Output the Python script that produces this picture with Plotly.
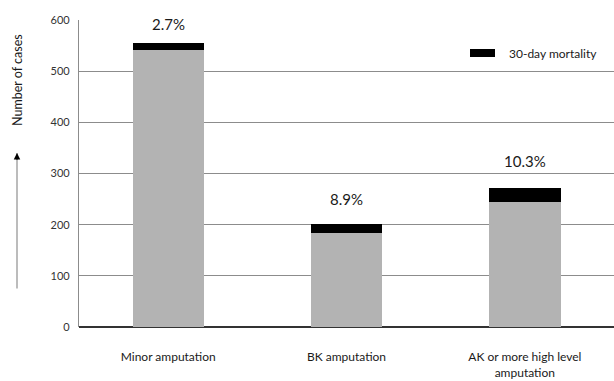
import plotly.graph_objects as go

# Amputation outcomes: survivors and 30-day deaths per amputation level
categories = ["Minor amputation", "BK amputation", "AK or more high level<br>amputation"]
survivors = [541, 184, 244]
deaths_30day = [15, 18, 28]
y_ticks = [0, 100, 200, 300, 400, 500, 600]

totals = [s + d for s, d in zip(survivors, deaths_30day)]
mortality_pct = [f"{100 * d / t:.1f}%" for d, t in zip(deaths_30day, totals)]

FONT = "Lato, 'Open Sans', sans-serif"
xpos = list(range(len(categories)))

fig = go.Figure()
fig.add_trace(go.Bar(
    x=xpos, y=survivors, name="Survivors",
    marker=dict(color="#b3b3b3", line=dict(width=0)),
    width=0.4, showlegend=False,
))
fig.add_trace(go.Bar(
    x=xpos, y=deaths_30day, name="30-day mortality",
    marker=dict(color="#000000", line=dict(width=0)),
    width=0.4, showlegend=False,
))

# Percentage labels above each stacked bar
label_shift = [19, 25, 27]
for i, (t, txt) in enumerate(zip(totals, mortality_pct)):
    fig.add_annotation(x=xpos[i], y=t, text=txt, showarrow=False,
                       yshift=label_shift[i], xanchor="center", yanchor="middle",
                       font=dict(family=FONT, size=15, color="#1a1a1a"))

# Legend swatch and text
fig.add_shape(type="rect", xref="paper", yref="paper",
              x0=(470 - 79) / 535, x1=(495 - 79) / 535,
              y0=(327 - 57) / 307, y1=(327 - 49) / 307,
              fillcolor="black", line=dict(width=0))
fig.add_annotation(xref="paper", yref="paper", x=(507 - 79) / 535, y=(327 - 53) / 307,
                   text="30-day mortality", showarrow=False, xanchor="left", yanchor="middle",
                   font=dict(family=FONT, size=12, color="#1a1a1a"))

# Y-axis title with upward arrow
fig.add_annotation(xref="paper", yref="paper", x=(17 - 79) / 535, y=(327 - 80) / 307,
                   text="Number of cases", textangle=-90, showarrow=False,
                   xanchor="center", yanchor="middle",
                   font=dict(family=FONT, size=12.5, color="#1a1a1a"))
fig.add_annotation(xref="paper", yref="paper", x=(17 - 79) / 535, y=(327 - 153) / 307,
                   text="", showarrow=True, ax=0, ay=137, arrowhead=0,
                   arrowwidth=1.3, arrowcolor="#999999")
fig.add_annotation(xref="paper", yref="paper", x=(17 - 79) / 535, y=(327 - 153) / 307,
                   text="", showarrow=True, ax=0, ay=8, arrowhead=2, arrowsize=1,
                   arrowwidth=1.3, arrowcolor="#000000")

fig.update_layout(
    barmode="stack",
    width=614, height=381,
    margin=dict(l=79, r=0, t=20, b=54),
    plot_bgcolor="white", paper_bgcolor="white",
    font=dict(family=FONT, color="#1a1a1a"),
    showlegend=False,
)
fig.update_xaxes(
    range=[-0.5, 2.5], tickvals=xpos, ticktext=categories,
    showgrid=False, showline=False, ticks="", zeroline=False,
    tickfont=dict(family=FONT, size=12, color="#1a1a1a"),
    ticklabelstandoff=21,
)
fig.update_yaxes(
    range=[0, 600], tickvals=y_ticks,
    showgrid=True, gridcolor="#8c8c8c", gridwidth=1,
    showline=True, linecolor="#8c8c8c", linewidth=1.3,
    zeroline=True, zerolinecolor="#333333", zerolinewidth=1.6,
    ticks="", ticklabelstandoff=6,
    tickfont=dict(family=FONT, size=11, color="#333333"),
)

fig.write_html("out.html")
